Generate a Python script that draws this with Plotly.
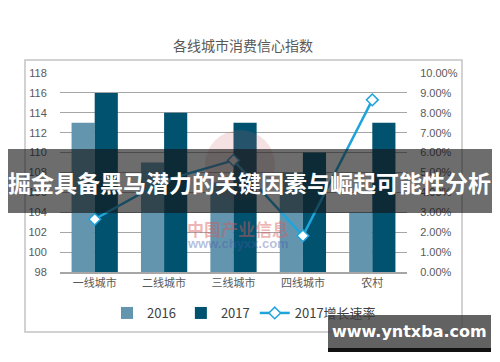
import plotly.graph_objects as go

categories = ["一线城市", "二线城市", "三线城市", "四线城市", "农村"]
values_2016 = [113, 109, 107, 108, 104]
values_2017 = [116, 114, 113, 110, 113]
growth_2017 = [0.0265, 0.0459, 0.0561, 0.0182, 0.0865]
left_ticks = [98, 100, 102, 104, 106, 108, 110, 112, 114, 116, 118]

# page body has an 8px margin, so the figure is sized to fit the window
OFF = 8
W, H = 500 - OFF, 362 - OFF
# plot-area edges in window pixels
L, R, T, B = 60, 407, 73, 272


def px(x):
    return (x - L) / (R - L)


def py(y):
    return (B - y) / (B - T)


fig = go.Figure()
fig.add_trace(go.Bar(x=categories, y=values_2016, name="2016",
                     marker=dict(color="#6396ae", line=dict(width=0))))
fig.add_trace(go.Bar(x=categories, y=values_2017, name="2017",
                     marker=dict(color="#00526f", line=dict(width=0))))
fig.add_trace(go.Scatter(x=categories, y=growth_2017, name="2017增长速率", yaxis="y2",
                         mode="lines+markers",
                         line=dict(color="#1fa5db", width=2.5),
                         marker=dict(symbol="diamond", size=9, color="white",
                                     line=dict(color="#1fa5db", width=1.5))))

axis_font = dict(family="Liberation Sans, Arial, sans-serif", size=11, color="#595959")

fig.update_layout(
    width=W, height=H,
    margin=dict(l=L - OFF, r=W - (R - OFF), t=T - OFF, b=H - (B - OFF), autoexpand=False),
    paper_bgcolor="white", plot_bgcolor="white",
    barmode="group", bargap=0.333, bargroupgap=0,
    showlegend=True,
    title=dict(text="各线城市消费信心指数", x=px(243), xref="paper", xanchor="center",
               y=1 - (46 - OFF) / H, yanchor="middle",
               font=dict(family="Noto Sans CJK SC, sans-serif", size=14, color="#595959")),
    xaxis=dict(showgrid=False, showline=True, linecolor="#a6a6a6", linewidth=1.5,
               ticks="", tickfont=dict(family="Noto Sans CJK SC, sans-serif", size=11, color="#595959"),
               fixedrange=True, automargin=False),
    yaxis=dict(range=[98, 118], tickvals=left_ticks, showgrid=True, gridcolor="#a6a6a6",
               gridwidth=1, zeroline=False, showline=False, ticks="outside", ticklen=10,
               tickcolor="rgba(0,0,0,0)", tickfont=axis_font, automargin=False),
    yaxis2=dict(range=[0, 0.10], dtick=0.01, tickformat=".2%", overlaying="y", side="right",
                showgrid=False, zeroline=False, showline=False, ticks="outside", ticklen=10,
                tickcolor="rgba(0,0,0,0)", tickfont=axis_font, automargin=False),
    legend=dict(orientation="h", x=px(244), xanchor="center", y=py(313), yanchor="middle",
                font=dict(family="Noto Sans CJK SC, sans-serif", size=13, color="#404040"),
                itemwidth=30, bgcolor="rgba(0,0,0,0)", traceorder="normal"),
)

shapes = [
    # outer chart frame
    dict(type="rect", xref="paper", yref="paper", x0=px(25), x1=px(462), y0=py(332), y1=py(60),
         line=dict(color="#c4c4c4", width=1.5), layer="below"),
    # faint watermark logo circle
    dict(type="circle", xref="paper", yref="paper", x0=px(205), x1=px(275), y0=py(200), y1=py(130),
         fillcolor="rgba(200,90,90,0.18)", line=dict(width=0), layer="above"),
    # banner band
    dict(type="rect", xref="paper", yref="paper", x0=px(8), x1=px(492), y0=py(213), y1=py(149),
         fillcolor="rgba(20,20,20,0.62)", line=dict(width=0), layer="above"),
    # site stamp box
    dict(type="rect", xref="paper", yref="paper", x0=px(328), x1=px(491), y0=py(348), y1=py(315),
         fillcolor="rgba(70,70,70,0.85)", line=dict(width=0), layer="above"),
    dict(type="rect", xref="paper", yref="paper", x0=px(328), x1=px(491), y0=py(352), y1=py(348),
         fillcolor="#111111", line=dict(width=0), layer="above"),
]
fig.update_layout(shapes=shapes)

fig.add_annotation(text="中国产业信息", xref="paper", yref="paper", x=px(238), y=py(228),
                   xanchor="center", yanchor="middle", showarrow=False,
                   font=dict(family="Noto Sans CJK SC, sans-serif", size=17,
                             color="rgba(215,90,90,0.45)", weight="bold"))
fig.add_annotation(text="www.chyxx.com", xref="paper", yref="paper", x=px(238), y=py(243),
                   xanchor="center", yanchor="middle", showarrow=False,
                   font=dict(family="Liberation Sans, Arial, sans-serif", size=13,
                             color="rgba(70,90,170,0.4)", weight="bold"))
fig.add_annotation(text="掘金具备黑马潜力的关键因素与崛起可能性分析", xref="paper", yref="paper",
                   x=px(250), y=py(182), xanchor="center", yanchor="middle", showarrow=False,
                   font=dict(family="Noto Sans CJK SC, sans-serif", size=23, color="white", weight="bold"))
fig.add_annotation(text="www.yntxba.com", xref="paper", yref="paper", x=px(409), y=py(331),
                   xanchor="center", yanchor="middle", showarrow=False,
                   font=dict(family="DejaVu Sans, sans-serif", size=16, color="white", weight="bold"))

fig.write_html("out.html")
